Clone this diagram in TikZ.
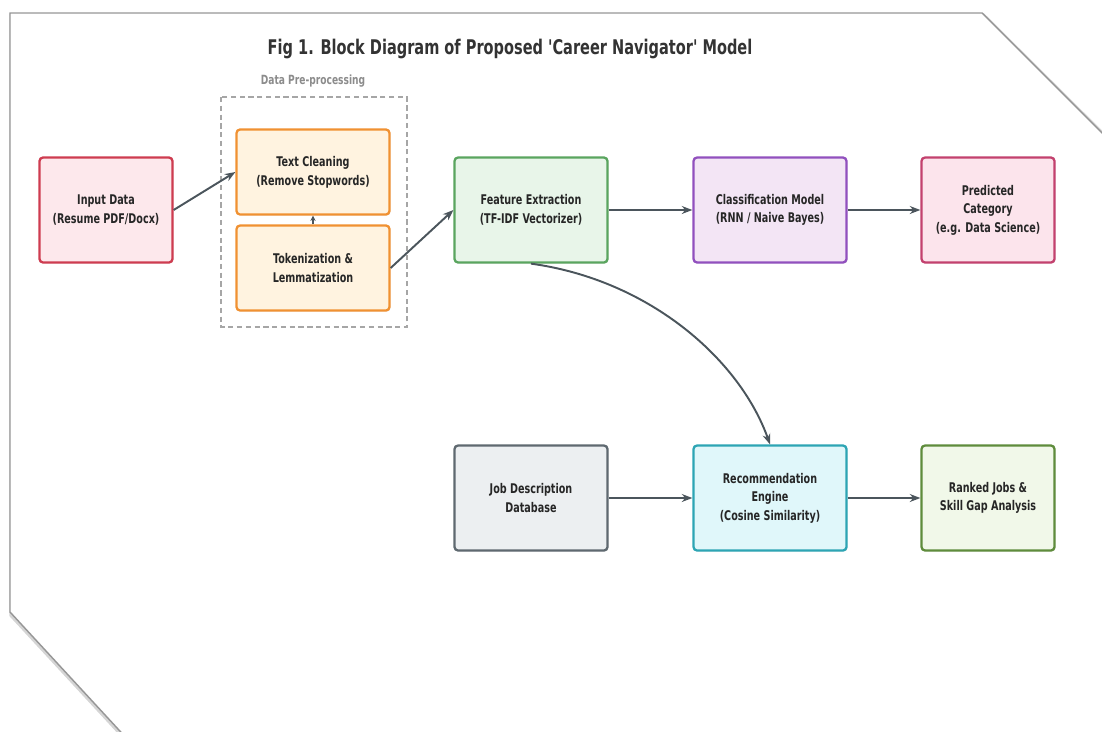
\documentclass[tikz,border=0pt]{standalone}
\usepackage{fontspec}
\newfontfamily\diafont{DejaVu Sans}[FakeStretch=0.72]
\usetikzlibrary{arrows.meta,shadows}
\definecolor{pfeil}{RGB}{75,85,92}
\definecolor{rahmen}{RGB}{150,150,150}
\definecolor{rotrand}{RGB}{206,60,80}      \definecolor{rotfill}{RGB}{253,232,236}
\definecolor{orangerand}{RGB}{240,145,50}  \definecolor{orangefill}{RGB}{255,243,224}
\definecolor{gruenrand}{RGB}{90,165,95}    \definecolor{gruenfill}{RGB}{232,245,233}
\definecolor{lilarand}{RGB}{145,80,190}    \definecolor{lilafill}{RGB}{243,229,245}
\definecolor{rosarand}{RGB}{195,65,110}    \definecolor{rosafill}{RGB}{252,228,236}
\definecolor{graurand}{RGB}{95,105,112}    \definecolor{graufill}{RGB}{236,239,241}
\definecolor{tuerkisrand}{RGB}{45,165,180} \definecolor{tuerkisfill}{RGB}{224,247,250}
\definecolor{olivrand}{RGB}{95,140,60}     \definecolor{olivfill}{RGB}{241,248,233}

\tikzset{
    block/.style={draw, line width=1.3pt, rounded corners=2pt, align=center,
        font=\diafont\bfseries\fontsize{7.6}{10.6}\selectfont, text=black!85,
        minimum width=3.06cm, minimum height=2.1cm, inner sep=2pt,
        drop shadow={opacity=0.12, shadow xshift=0.6pt, shadow yshift=-0.6pt}},
    farbe/.style={block, draw=#1rand, fill=#1fill},
    fluss/.style={draw=pfeil, line width=1.1pt, -{Stealth[length=6pt, width=4.5pt]}}
}

\begin{document}
\begin{tikzpicture}[x=0.02cm, y=-0.02cm]

        \useasboundingbox (0,0) rectangle (1102,731);
        \clip (0,0) rectangle (1102,731);

        \draw[rahmen!40, line width=3pt] (12,16) -- (983,16) -- (1112,144) -- (1112,745) -- (132,745) -- (12,615) -- cycle;  %Schatten des Blattes
        \draw[rahmen, line width=0.8pt, fill=white] (10,13) -- (982,13) -- (1110,141) -- (1110,742) -- (130,742) -- (10,612) -- cycle;  %Blatt

        \node[font=\diafont\bfseries\fontsize{11.5}{14}\selectfont, text=black!80] (titel) at (510,49) {Fig 1. Block Diagram of Proposed 'Career Navigator' Model};  %Titel

        \draw[gray!70, densely dashed, line width=0.6pt] (221,97) rectangle (407,327);  %Rahmen der Vorverarbeitung
        \node[font=\diafont\bfseries\fontsize{7.2}{9}\selectfont, text=gray!90] (vorlabel) at (313,81) {Data Pre-processing};

        \node[farbe=rot, minimum width=2.66cm] (input) at (106,210) {Input Data\\(Resume PDF/Docx)};
        \node[farbe=orange, minimum height=1.7cm] (clean) at (313,172) {Text Cleaning\\(Remove Stopwords)};
        \node[farbe=orange, minimum height=1.7cm] (token) at (313,268) {Tokenization \&\\Lemmatization};
        \node[farbe=gruen] (feature) at (531,210) {Feature Extraction\\(TF-IDF Vectorizer)};
        \node[farbe=lila] (classify) at (770,210) {Classification Model\\(RNN / Naive Bayes)};
        \node[farbe=rosa, minimum width=2.66cm] (predict) at (988,210) {Predicted\\Category\\(e.g. Data Science)};

        \node[farbe=grau] (jobdb) at (531,498) {Job Description\\Database};
        \node[farbe=tuerkis] (recommend) at (770,498) {Recommendation\\Engine\\(Cosine Similarity)};
        \node[farbe=oliv, minimum width=2.66cm] (ranked) at (988,498) {Ranked Jobs \&\\Skill Gap Analysis};

        \draw[fluss] (input.east) -- (clean.west);  %Eingabe -> Bereinigung
        \draw[fluss, -{Stealth[length=3pt, width=3pt]}] (token.north) -- (clean.south);  %kurzer Pfeil
        \draw[fluss] (token.east) -- (feature.west);
        \draw[fluss] (feature.east) -- (classify.west);
        \draw[fluss] (classify.east) -- (predict.west);
        \draw[fluss] (feature.south) .. controls (650,280) and (740,360) .. (recommend.north);  %Bogen zur Empfehlung
        \draw[fluss] (jobdb.east) -- (recommend.west);
        \draw[fluss] (recommend.east) -- (ranked.west);

\end{tikzpicture}
\end{document}
